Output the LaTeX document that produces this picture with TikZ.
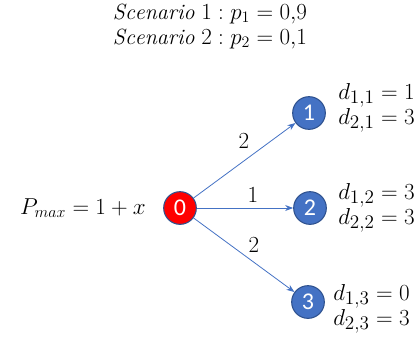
\documentclass[tikz,border=0pt]{standalone}
\usepackage{fontspec}
\newfontfamily\numfont{Carlito}
\usetikzlibrary{arrows.meta}
\definecolor{nodeblue}{HTML}{4472C4}
\definecolor{nodeedge}{HTML}{2F528F}
\begin{document}
\begin{tikzpicture}[x=0.75pt,y=-0.75pt,
  vert/.style={circle,draw=nodeedge,line width=0.8pt,fill=nodeblue,text=white,
    minimum size=24.5pt,inner sep=0pt,font=\numfont\fontsize{18}{18}\selectfont},
  src/.style={vert,fill=red},
  arc/.style={draw=nodeblue,line width=0.6pt,-{Stealth[length=6pt,width=4.5pt]}},
  lbl/.style={font=\fontsize{18}{18.75}\selectfont,inner sep=0pt},
  dlbl/.style={lbl,anchor=west,align=left,font=\fontsize{19}{18.75}\selectfont}]
\useasboundingbox (0,0) rectangle (420,340);
\node[lbl,align=center,font=\fontsize{16.5}{18.75}\selectfont] (scen) at (210,26) {$\mathit{Scenario}\ 1: p_1=0{,}9$\\$\mathit{Scenario}\ 2: p_2=0{,}1$};
\node[src] (n0) at (180,208) {0};
\node[vert] (n1) at (309,113) {1};
\node[vert] (n2) at (310,208) {2};
\node[vert] (n3) at (308,302) {3};
\node[lbl,anchor=east] (pmax) at (146,208) {$P_{max}=1+x$};
\draw[arc] (n0) -- (n1);
\draw[arc] (n0) -- (n2);
\draw[arc] (n0) -- (n3);
\node[lbl] (w1) at (244,141) {$2$};
\node[lbl] (w2) at (253,195) {$1$};
\node[lbl] (w3) at (254,245) {$2$};
\node[dlbl] (d1) at (338,108) {$d_{1,1}=1$\\$d_{2,1}=3$};
\node[dlbl] (d2) at (338,208) {$d_{1,2}=3$\\$d_{2,2}=3$};
\node[dlbl] (d3) at (333,309) {$d_{1,3}=0$\\$d_{2,3}=3$};
\end{tikzpicture}
\end{document}
